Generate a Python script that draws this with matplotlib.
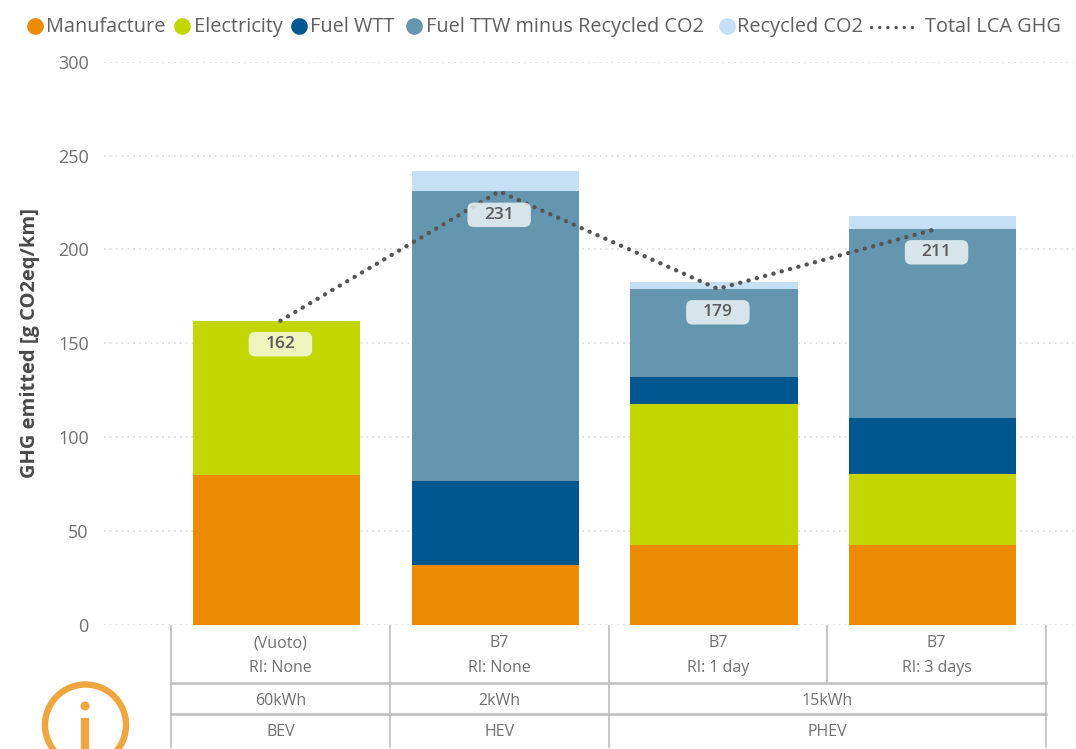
import numpy as np
import matplotlib
matplotlib.use("Agg")
import matplotlib.pyplot as plt
from matplotlib.patches import Circle, FancyBboxPatch

plt.rcParams["font.family"] = ["Open Sans", "DejaVu Sans"]

# DATA
SERIES_NAMES = ["Manufacture", "Electricity", "Fuel WTT", "Fuel TTW minus Recycled CO2", "Recycled CO2"]
manufacture = [80, 32, 42.5, 42.5]
electricity = [82, 0, 75, 38]
fuel_wtt = [0, 44.5, 14.5, 29.5]
fuel_ttw = [0, 154.5, 47, 101]
recycled = [0, 11, 3.5, 7]
total_lca = [162, 231, 179, 211]
y_ticks = [0, 50, 100, 150, 200, 250, 300]

fuel_labels = ["(Vuoto)", "B7", "B7", "B7"]
ri_labels = ["RI: None", "RI: None", "RI: 1 day", "RI: 3 days"]
battery_labels = [("60kWh", 0, 0), ("2kWh", 1, 1), ("15kWh", 2, 3)]
type_labels = [("BEV", 0, 0), ("HEV", 1, 1), ("PHEV", 2, 3)]

COLORS = ["#EC8A00", "#C4D600", "#00568F", "#6497AF", "#C5DFF4"]
TEXT = "#707070"
LINE_COL = "#555555"
W, H = 1076, 749

fig = plt.figure(figsize=(W / 100, H / 100), dpi=100)

def px_axes(left, top, right, bottom):
    return fig.add_axes([left / W, 1 - bottom / H, (right - left) / W, (bottom - top) / H])

# main chart
ax = px_axes(104, 62, 1076, 624.5)
x = np.arange(len(manufacture))
bottom = np.zeros(len(x))
for name, vals, col in zip(SERIES_NAMES, [manufacture, electricity, fuel_wtt, fuel_ttw, recycled], COLORS):
    ax.bar(x, vals, width=0.765, bottom=bottom, color=col, label=name, zorder=2)
    bottom += np.array(vals)

# the line and its labels sit a little right of the bar centres in the original
line_x = x + 0.018
ax.plot(line_x, total_lca, color=LINE_COL, lw=3.1, ls=(0, (0.05, 1.95)), dash_capstyle="round", zorder=3)
for xi, v in zip(line_x, total_lca):
    ax.add_patch(FancyBboxPatch((xi - 0.145, v - 19), 0.29, 13, boxstyle="round,pad=0,rounding_size=0.03",
                                mutation_aspect=116, fc="white", ec="none", alpha=0.75, zorder=4))
    ax.text(xi, v - 12.5, str(v), ha="center", va="center", fontsize=12.5, fontweight="semibold",
            color="#5A5A5A", zorder=5)

ax.set_xlim((104 - 276.5) / 218.7, (1076 - 276.5) / 218.7)
ax.set_ylim(0, 300)
ax.set_yticks(y_ticks)
ax.set_xticks([])
ax.tick_params(axis="y", length=0, pad=11, labelsize=13, labelcolor=TEXT)
ax.grid(axis="y", color="#DADADA", lw=1.2, ls=(0, (1, 2.5)), zorder=0)
ax.set_axisbelow(True)
for s in ax.spines.values():
    s.set_visible(False)
ax.set_ylabel("GHG emitted [g CO2eq/km]", fontsize=14.5, fontweight="bold", color="#4A4A4A")
ax.yaxis.set_label_coords((40 - 104) / 972, 0.5)
ax.patch.set_alpha(0)

# category table under the axis, y in pixels, 4 px right of the bars
tab = px_axes(108, 624.5, 1080, 749)
tab.set_xlim(ax.get_xlim())
tab.set_ylim(749, 624.5)
tab.axis("off")
LINE = "#BDBDBD"
for xv in [-0.5, 0.5, 1.5, 3.5]:
    tab.plot([xv, xv], [626, 747], color=LINE, lw=1.2)
tab.plot([2.5, 2.5], [626, 683], color=LINE, lw=1.2)
for yv in [683, 714]:
    tab.plot([-0.5, 3.5], [yv, yv], color=LINE, lw=1.8)
for i in range(len(fuel_labels)):
    tab.text(i, 643, fuel_labels[i], ha="center", va="center", fontsize=11.5, color=TEXT)
    tab.text(i, 668, ri_labels[i], ha="center", va="center", fontsize=11.5, color=TEXT)
for lab, a, b in battery_labels:
    tab.text((a + b) / 2, 701, lab, ha="center", va="center", fontsize=11.5, color=TEXT)
for lab, a, b in type_labels:
    tab.text((a + b) / 2, 732, lab, ha="center", va="center", fontsize=11.5, color=TEXT)

# overlay in pixels: info icon and legend
over = px_axes(0, 0, W, H)
over.set_xlim(0, W)
over.set_ylim(H, 0)
over.axis("off")
over.patch.set_alpha(0)
ICON = "#EFA63F"
over.add_patch(Circle((85.5, 725), 40.5, fc="white", ec=ICON, lw=4.6))
over.plot([85, 85], [718, 749], color=ICON, lw=6, solid_capstyle="butt")
over.add_patch(Circle((85, 706), 4.5, fc=ICON, ec="none"))

marker_x = [35, 182, 298.5, 414, 727]
label_x = [46, 194, 310, 426, 737]
for mx, lx, name, col in zip(marker_x, label_x, SERIES_NAMES, COLORS):
    over.plot([mx], [26], marker="o", ms=12, mfc=col, mec="none", ls="none")
    over.text(lx, 27, name, ha="left", va="center", fontsize=14.3, color="#5F5F5F")
over.plot([871, 918], [27, 27], color=LINE_COL, lw=2.4, ls=(0, (0.05, 2.4)), dash_capstyle="round")
over.text(925, 27, "Total LCA GHG", ha="left", va="center", fontsize=14.3, color="#5F5F5F")

fig.savefig("out.png", dpi=100, facecolor="white")
